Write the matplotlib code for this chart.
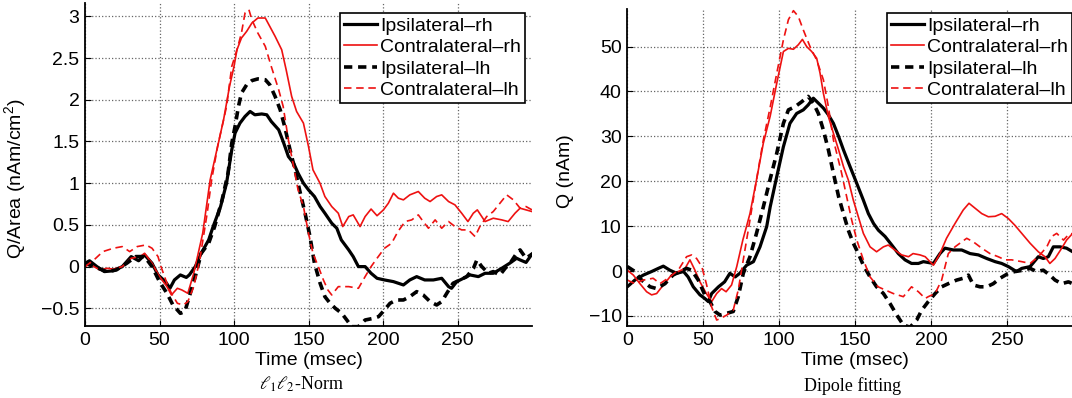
import matplotlib
matplotlib.use('Agg')
import matplotlib.pyplot as plt
from matplotlib.ticker import FuncFormatter

plt.rcParams['font.family'] = ['Liberation Sans', 'DejaVu Sans']
plt.rcParams['mathtext.fontset'] = 'custom'
plt.rcParams['mathtext.rm'] = 'Liberation Sans'
plt.rcParams['mathtext.it'] = 'Liberation Sans:italic'

LABELS = ['Ipsilateral\u2013rh', 'Contralateral\u2013rh', 'Ipsilateral\u2013lh', 'Contralateral\u2013lh']

# ----- left panel: l1l2-norm, Q/Area (nAm/cm^2) -----
L_IPSI_RH_T = [0, 3, 8, 13, 19, 25, 31, 36, 40, 45, 49, 54, 57, 60, 64, 68, 70, 74, 78, 83, 86, 91, 95,
               98.5, 100.7, 104, 107.4, 110.8, 114, 118.6, 122, 125, 130, 133, 136.5, 140, 143, 146.6, 150,
               154, 157.8, 161, 165.6, 169, 172, 177, 180, 183.5, 188, 192, 196, 201, 207, 213.7, 218,
               222.6, 228, 233.8, 239.4, 244, 246, 249.5, 254, 258.4, 264, 268.5, 274, 279.7, 285, 289.7,
               292, 296, 300]
L_IPSI_RH_V = [0.04, 0.07, 0, -0.06, -0.05, 0, 0.12, 0.07, 0.14, 0.04, -0.1, -0.18, -0.26, -0.16, -0.1,
               -0.13, -0.1, 0, 0.16, 0.32, 0.48, 0.72, 1.0, 1.4, 1.6, 1.72, 1.8, 1.86, 1.82, 1.83, 1.82,
               1.74, 1.64, 1.5, 1.32, 1.24, 1.12, 1.0, 0.92, 0.84, 0.72, 0.64, 0.52, 0.46, 0.32, 0.2, 0.12,
               0, 0, -0.08, -0.14, -0.16, -0.18, -0.22, -0.16, -0.12, -0.16, -0.16, -0.14, -0.24, -0.26,
               -0.18, -0.14, -0.1, -0.12, -0.08, -0.08, -0.02, 0.04, 0.1, 0.08, 0.05, 0.15]

L_CONTRA_RH_T = [0, 3, 10, 15, 19, 25, 31, 37, 40, 45, 50, 55, 58, 62, 65, 69, 73, 76, 79, 84, 88, 93, 97,
                 100, 102, 105, 108.5, 112, 116, 121, 124, 127.6, 132, 135, 138.7, 142, 146.6, 150, 153,
                 157.7, 161, 165.6, 170, 173, 177, 180, 184.6, 188, 192, 196, 200.3, 203.6, 207, 210.3,
                 213.7, 218, 223.7, 228, 231.6, 236, 239.4, 244, 248.3, 252.8, 257, 260.6, 263.3, 268.5,
                 274, 279.7, 284, 288.6, 292, 296, 300]
L_CONTRA_RH_V = [0, 0.03, -0.04, -0.02, -0.03, 0, 0.1, 0.12, 0.16, 0.04, -0.12, -0.24, -0.34, -0.26, -0.28,
                 -0.32, -0.08, 0.16, 0.4, 1.04, 1.36, 1.76, 2.16, 2.4, 2.6, 2.74, 2.82, 2.92, 2.98, 2.98,
                 2.88, 2.76, 2.6, 2.36, 2.04, 1.86, 1.72, 1.44, 1.16, 1.0, 0.84, 0.72, 0.64, 0.48, 0.6,
                 0.62, 0.48, 0.6, 0.69, 0.61, 0.68, 0.76, 0.88, 0.82, 0.8, 0.86, 0.9, 0.82, 0.78, 0.84,
                 0.86, 0.78, 0.74, 0.64, 0.54, 0.64, 0.68, 0.54, 0.58, 0.56, 0.54, 0.64, 0.7, 0.68, 0.66]

L_IPSI_LH_T = [0, 6, 14.5, 21, 28, 34, 40, 45, 50, 55, 59, 64, 67, 70, 74, 78, 83, 87, 92, 96, 98.5, 100.7,
               103, 105, 108.5, 112, 116, 121, 124, 127.6, 131, 134, 137.6, 141, 144, 147.7, 151, 154,
               157.8, 161, 164.5, 168, 172.3, 175.7, 179, 183.5, 188, 193.6, 197, 200, 204.7, 209, 213.7,
               218, 222.6, 227, 231.6, 236, 239.4, 242.8, 247, 251.7, 256.2, 260.7, 263, 266.3, 270.7,
               274, 278.5, 282, 285.3, 289.7, 292, 296, 300]
L_IPSI_LH_V = [0.04, 0, -0.06, -0.04, 0.04, 0.12, 0.12, 0, -0.18, -0.32, -0.46, -0.56, -0.54, -0.36, -0.12,
               0.16, 0.28, 0.48, 0.8, 1.12, 1.48, 1.68, 1.92, 2.08, 2.18, 2.23, 2.25, 2.24, 2.18, 2.04,
               1.88, 1.68, 1.4, 1.16, 0.92, 0.64, 0.36, 0.04, -0.2, -0.36, -0.44, -0.5, -0.56, -0.64,
               -0.72, -0.72, -0.64, -0.62, -0.6, -0.54, -0.44, -0.4, -0.4, -0.36, -0.3, -0.34, -0.42,
               -0.46, -0.42, -0.32, -0.2, -0.16, -0.12, -0.02, 0.08, 0, -0.08, -0.06, -0.1, -0.02, 0.04,
               0.16, 0.2, 0.1, 0.15]

L_CONTRA_LH_T = [0, 6, 12, 19, 25, 30, 35, 41, 45, 49, 51, 55, 58, 62, 66, 69, 73, 77, 82, 85, 89, 95, 98.5,
                 102, 105, 107.4, 110, 112, 116, 121, 125, 130, 133, 136.5, 140, 143, 146.6, 150, 153,
                 156.6, 160, 163, 165.6, 170, 177, 183.5, 188, 192, 196, 201, 205.8, 210, 214.8, 219.3,
                 223.7, 227, 230.5, 235, 239.4, 244, 248.3, 252.8, 257.3, 261.8, 265, 269.6, 274, 278.5,
                 283, 287.5, 292, 296, 300]
L_CONTRA_LH_V = [0, 0.08, 0.18, 0.22, 0.24, 0.18, 0.24, 0.26, 0.22, 0.12, 0, -0.2, -0.32, -0.44, -0.46,
                 -0.42, -0.24, 0.08, 0.64, 1.04, 1.44, 1.92, 2.4, 2.6, 2.8, 3.04, 3.08, 2.96, 2.8, 2.64,
                 2.4, 2.12, 1.92, 1.52, 1.2, 0.92, 0.72, 0.4, 0.16, 0, -0.16, -0.28, -0.34, -0.24, -0.24,
                 -0.26, -0.12, 0, 0.1, 0.22, 0.28, 0.42, 0.54, 0.56, 0.62, 0.54, 0.46, 0.56, 0.46, 0.54,
                 0.48, 0.44, 0.44, 0.36, 0.48, 0.6, 0.66, 0.76, 0.86, 0.8, 0.7, 0.72, 0.68]

# ----- right panel: dipole fitting, Q (nAm) -----
R_IPSI_RH_T = [0, 5, 10.5, 16, 20.4, 23.7, 28, 32.5, 37, 40, 43.4, 47.8, 51, 53.3, 55.5, 60, 64, 67.5, 71,
               74, 78.5, 83, 87.3, 91.7, 94, 98.3, 102.7, 107, 111.4, 115.8, 119, 122.4, 125.7, 129, 132.3,
               135.6, 139, 142.2, 146.5, 151, 155.3, 158.6, 162, 165.2, 169.6, 174, 178.3, 182.7, 187,
               191.5, 194.8, 201.4, 205.7, 209, 214.5, 220, 225.5, 231, 236.5, 242, 246.3, 250.7, 256,
               259.5, 265, 270.4, 273.7, 277, 280.3, 284.7, 289, 293, 300]
R_IPSI_RH_V = [-3.5, -2, -0.9, -0.1, 0.6, 1.1, 0.2, -0.5, -0.1, -1.3, -3.5, -5.3, -6.1, -6.8, -5, -3.5,
               -2.4, -0.5, -1.3, -0.5, 1.3, 2.1, 5.4, 9.9, 14.3, 21, 27.7, 32.9, 35.1, 35.9, 37, 38.5,
               37.4, 36.3, 34.8, 32.9, 30, 27, 23.3, 19.5, 15.8, 12.8, 10.6, 9.1, 7.7, 5.8, 3.9, 2.5, 1.7,
               1.7, 2.1, 1.7, 3.9, 5.1, 4.7, 4.7, 3.9, 3.6, 2.8, 2.1, 1.7, 1, -0.1, 0.6, 1, 3.2, 2.8, 3.2,
               5.4, 5.4, 5.1, 4.3, 3.5]

R_CONTRA_RH_T = [0, 4, 8.3, 12.7, 16, 19.3, 23.7, 29, 33.5, 38, 41.2, 44.5, 47.8, 52, 55.5, 58.8, 62, 65,
                 68.6, 72, 76, 80.7, 85, 89.5, 94, 98.3, 102.7, 106, 109.3, 112.5, 115.2, 118, 121.3,
                 124.6, 126.8, 129, 132.3, 135.6, 139, 142.2, 145.4, 148.7, 152, 155.3, 159.7, 164, 168.5,
                 171.7, 176, 180.5, 185, 188, 192.6, 196, 201.4, 205.7, 210, 215.6, 221, 224.8, 228.8,
                 233.2, 237.5, 242, 246.3, 250.7, 255, 259.5, 265, 270.4, 274.8, 278, 281.4, 285.8, 289,
                 293, 300]
R_CONTRA_RH_V = [0.2, -0.9, -2.8, -4.6, -5.3, -5, -3.1, -0.9, -0.1, 0.6, 2.5, 0.2, -2.4, -5, -6.8, -5,
                 -3.9, -4.6, -3.1, 1, 6.9, 12.8, 20.3, 28.5, 34.5, 41.8, 48.9, 49.6, 49.4, 50.4, 51.6, 50,
                 48.9, 47.4, 44.1, 39.6, 34.4, 30.7, 27, 23.3, 20.3, 15.8, 12.1, 8.4, 5.4, 4.3, 5.4, 5.8,
                 4.7, 3.6, 3.2, 3.9, 3.6, 3.2, 1.3, 3.9, 7.3, 10.6, 13.6, 15.1, 14, 12.8, 12.1, 12.2, 12.8,
                 11.7, 10.2, 8.4, 6.2, 4.3, 3.2, 1.7, 2.8, 5.1, 6.9, 8.4, 10]

R_IPSI_LH_T = [0, 5, 9.4, 15, 19.3, 24.8, 30, 34.6, 39, 42.3, 46.7, 51, 54.4, 57.7, 61, 65.4, 69.7, 73,
               76.3, 80.7, 85, 89.5, 94, 98.3, 102.7, 106, 110.3, 114.7, 119, 122.4, 125.7, 129, 132.3,
               135.6, 139, 142.2, 145.4, 148.7, 152, 155.3, 159.7, 164, 168.5, 172.8, 177.3, 181.6, 186,
               190.4, 193.7, 198, 202.5, 206.8, 211.2, 216.7, 221, 224.4, 227.7, 232, 236.5, 240.8, 245.2,
               250.7, 255, 260.6, 265, 269.3, 273.7, 278, 281.4, 285.8, 290.2, 293, 300]
R_IPSI_LH_V = [1, -0.1, -2, -3.5, -3.9, -2.8, -0.9, -0.1, 0.6, 0.2, -2, -5.3, -6.8, -9, -9.8, -9.4, -9,
               -5.7, -0.5, 3.2, 8.4, 14.3, 20.5, 26.2, 32.9, 35.9, 36.6, 37.7, 38.9, 37.4, 35.1, 31.4, 27,
               21.8, 16.6, 12.8, 9.1, 6.2, 3.9, 1.3, -1.3, -3.5, -5, -7.2, -9.8, -12, -12.5, -10.9, -8.7,
               -6.8, -5, -3.5, -2.8, -2, -1.6, -0.9, -3.1, -3.5, -3.5, -2.8, -1.6, -0.5, -0.1, 0.2, 0.6,
               -0.1, 0.2, -0.9, -2, -2.8, -2.4, -2.8, -3]

R_CONTRA_LH_T = [0, 5, 10.5, 17, 21.5, 28, 33.5, 39, 42.3, 45.6, 49, 52, 55.5, 58.8, 61, 65.4, 69.7, 73,
                 76.3, 80.7, 85, 89.5, 94, 98.3, 102.7, 106, 109.3, 112.5, 115.8, 120.2, 124.6, 129, 132.3,
                 135.6, 138.9, 141, 144.3, 147.6, 151, 155.3, 159.7, 165, 169.6, 175, 181.6, 187, 191.5,
                 196, 198, 202.5, 206.8, 211.2, 215.6, 220, 223.3, 227.7, 233.2, 238.6, 244, 248.5, 252.9,
                 259.5, 265, 270.4, 276, 279.2, 282.5, 287, 290.2, 293, 300]
R_CONTRA_LH_V = [-2, -2.8, -2, -1.6, -2.8, -1.3, 0.2, 3.2, 3.6, 2.8, 1, -2.8, -8, -10.9, -10.6, -9.8,
                 -8.7, -4.2, 2.5, 11.4, 20.3, 29.2, 36.5, 44, 51.5, 56, 58, 56.7, 53.7, 50, 47, 42.6, 36.6,
                 29.2, 24.7, 21.8, 16.6, 11.4, 6.9, 2.5, -1.3, -3.5, -4.2, -5, -5.7, -3.5, -4.6, -6.1,
                 -5.7, -5, -2, 3.9, 5.4, 6.5, 7.3, 6.5, 5.1, 3.9, 3.2, 2.5, 2.5, 2.1, 1.7, 3.2, 5.4, 7.7,
                 8.4, 6.9, 8.1, 8.4, 8]

XTICKS = [0, 50, 100, 150, 200, 250]
L_YTICKS = [-0.5, 0, 0.5, 1, 1.5, 2, 2.5, 3]
R_YTICKS = [-10, 0, 10, 20, 30, 40, 50]

STYLES = [
    dict(color='black', lw=2.3, ls='-'),
    dict(color='#ee1111', lw=1.2, ls='-'),
    dict(color='black', lw=2.6, ls=(0, (2.3, 1.6))),
    dict(color='#ee1111', lw=1.2, ls=(0, (4.5, 2.8))),
]

fmt = FuncFormatter(lambda v, _: f'{v:g}'.replace('-', '\u2212'))

fig = plt.figure(figsize=(10.72, 3.98), dpi=100)
W, H = 1072, 398
ax_l = fig.add_axes([85 / W, 72 / H, 447 / W, 323 / H])
ax_r = fig.add_axes([627.3 / W, 72 / H, 456 / W, 316.7 / H])


def draw(ax, series, ylim, yticks, ylabel, leg_anchor, leg_loc):
    for (t, v), lab, st in zip(series, LABELS, STYLES):
        ax.plot(t, v, label=lab, **st)
    ax.set_xlim(0, 300)
    ax.set_ylim(*ylim)
    ax.set_xticks(XTICKS)
    ax.set_yticks(yticks)
    ax.yaxis.set_major_formatter(fmt)
    ax.tick_params(direction='in', length=4, labelsize=14, pad=4, top=False, right=False)
    ax.grid(True, ls=':', color='#666666', lw=0.9)
    for s in ['top', 'right']:
        ax.spines[s].set_visible(False)
    for s in ['left', 'bottom']:
        ax.spines[s].set_linewidth(1.3)
    ax.set_xlabel('Time (msec)', fontsize=14)
    ax.set_ylabel(ylabel, fontsize=14)
    leg = ax.legend(loc=leg_loc, bbox_to_anchor=leg_anchor, fontsize=14, frameon=True,
                    fancybox=False, edgecolor='black', framealpha=1, borderaxespad=0,
                    handlelength=1.7, handletextpad=0.15, labelspacing=0.2, borderpad=0.2)
    leg.get_frame().set_linewidth(1.2)


draw(ax_l, [(L_IPSI_RH_T, L_IPSI_RH_V), (L_CONTRA_RH_T, L_CONTRA_RH_V),
            (L_IPSI_LH_T, L_IPSI_LH_V), (L_CONTRA_LH_T, L_CONTRA_LH_V)],
     (-0.712, 3.16), L_YTICKS, 'Q/Area (nAm/cm$^2$)', (0.984, 0.969), 'upper right')
draw(ax_r, [(R_IPSI_RH_T, R_IPSI_RH_V), (R_CONTRA_RH_T, R_CONTRA_RH_V),
            (R_IPSI_LH_T, R_IPSI_LH_V), (R_CONTRA_LH_T, R_CONTRA_LH_V)],
     (-12.23, 58.3), R_YTICKS, 'Q (nAm)', (0.5695, 0.988), 'upper left')

ax_l.yaxis.set_label_coords(-0.128, 0.455)
ax_r.yaxis.set_label_coords(-0.117, 0.49)
ax_l.xaxis.set_label_coords(0.5, -0.08)
ax_r.xaxis.set_label_coords(0.5, -0.082)

fig.text(301 / W, 1 - 384 / H, r'$\ell_1\ell_2$-Norm', ha='center', va='center',
         family='Liberation Serif', fontsize=13, math_fontfamily='stix')
fig.text(853 / W, 1 - 386 / H, 'Dipole fitting', ha='center', va='center',
         family='Liberation Serif', fontsize=13)

fig.savefig('out.png', dpi=100)
